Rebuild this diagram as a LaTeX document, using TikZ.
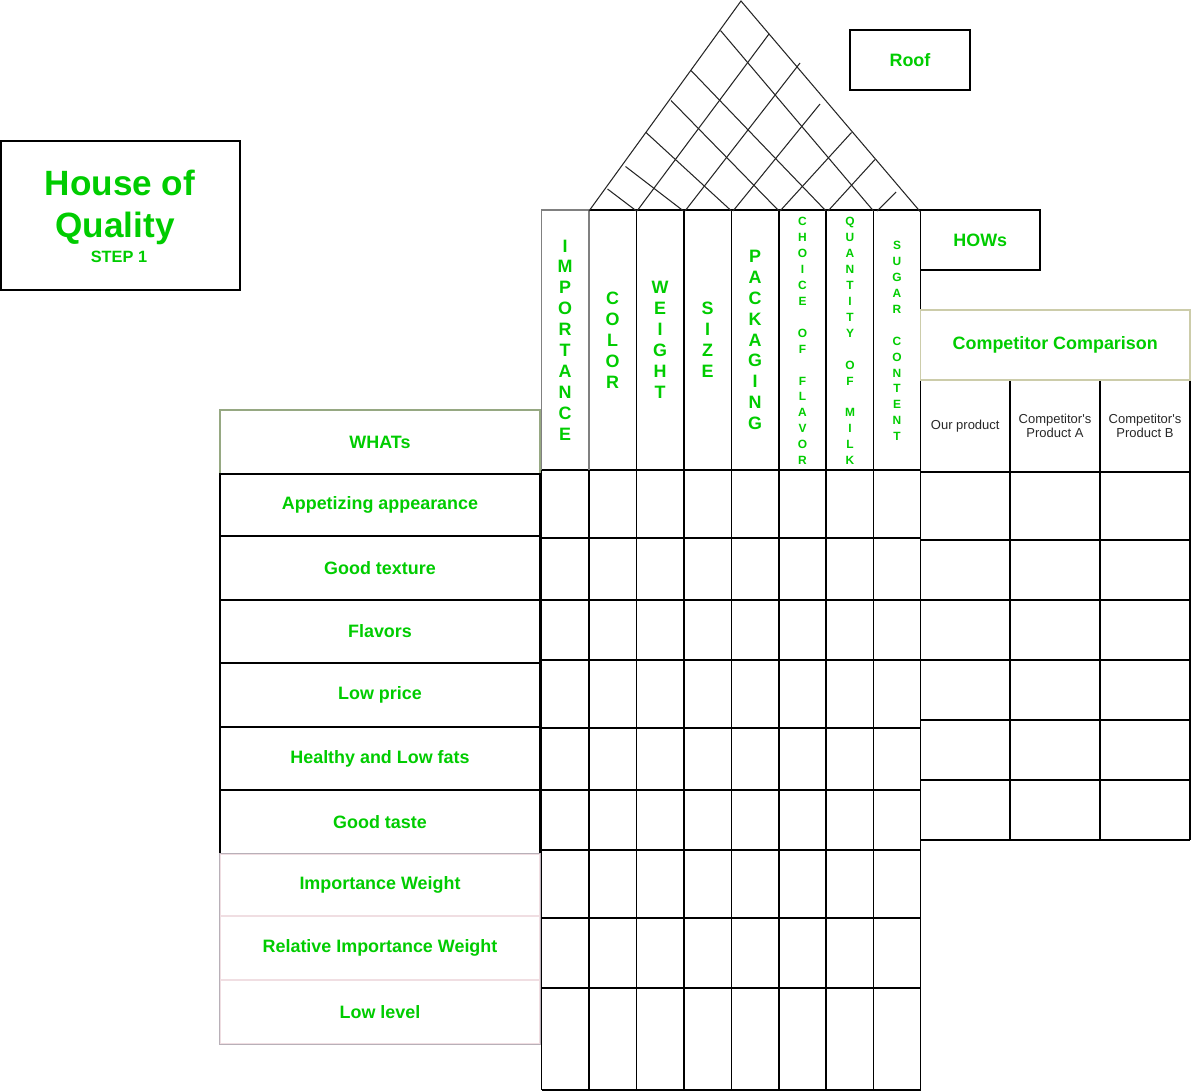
\documentclass[tikz,border=0pt]{standalone}
\usepackage{fontspec}
\setmainfont{Liberation Sans}
\usetikzlibrary{fit}

\definecolor{qgreen}{RGB}{0,204,0}
\definecolor{olivegray}{RGB}{150,168,130}
\definecolor{paleolive}{RGB}{204,204,170}
\definecolor{pinkgray}{RGB}{184,176,184}
\definecolor{palepink}{RGB}{240,222,226}
\definecolor{txtgray}{RGB}{40,40,40}

\newcommand{\gapline}{\mbox{}}

\begin{document}
\begin{tikzpicture}[
        x=0.02cm, y=-0.02cm,
        line width=0.7pt,
        box/.style={draw, inner sep=0pt},
        boxtext/.style={font=\fontsize{10.2}{12}\selectfont\bfseries, text=qgreen, align=center, inner sep=0pt},
        letters/.style={font=\fontsize{10.2}{11.9}\selectfont\bfseries, text=qgreen, align=center, inner sep=0pt},
        smallletters/.style={font=\fontsize{6.8}{9.07}\selectfont\bfseries, text=qgreen, align=center, inner sep=0pt},
        comptext/.style={inner sep=0pt, font=\fontsize{7.4}{7.9}\selectfont, text=txtgray, align=center},
        title/.style={anchor=base, inner sep=0pt, text=qgreen, font=\bfseries},
        roofline/.style={line width=0.6pt, draw=black!85}
    ]
    \useasboundingbox (0,0) rectangle (1191,1091);

    % title and side boxes
    \node[box, fit={(1,141) (240,290)}] (titlebox) {};
    \node[title, font=\fontsize{20}{24}\selectfont\bfseries] (house) at (120,196) {House of};
    \node[title, font=\fontsize{20}{24}\selectfont\bfseries] (quality) at (115,238) {Quality};
    \node[title, font=\fontsize{9.3}{11}\selectfont\bfseries] (step) at (119,263) {STEP 1};
    \node[box, fit={(850,30) (970,90)}, label={[boxtext]center:Roof}] (roof) {};
    \node[box, fit={(920.5,210) (1040,270)}, label={[boxtext]center:HOWs}] (hows) {};

    % WHATs list
    \node[box, draw=olivegray, fit={(220,410) (540,474)}, label={[boxtext]center:WHATs}] (whats) {};
    \node[box, fit={(220,474) (540,536)}, label={[boxtext]center:Appetizing appearance}] (w1) {};
    \node[box, fit={(220,536) (540,600)}, label={[boxtext]center:Good texture}] (w2) {};
    \node[box, fit={(220,600) (540,663)}, label={[boxtext]center:Flavors}] (w3) {};
    \node[box, fit={(220,663) (540,727)}, label={[boxtext]center:Low price}] (w4) {};
    \node[box, fit={(220,727) (540,790)}, label={[boxtext]center:Healthy and Low fats}] (w5) {};
    \node[box, fit={(220,790) (540,854)}, label={[boxtext]center:Good taste}] (w6) {};
    \node[box, draw=palepink, fit={(220,854) (540,916)}, label={[boxtext]center:Importance Weight}] (imp) {};
    \node[box, draw=palepink, fit={(220,916) (540,980)}, label={[boxtext]center:Relative Importance Weight}] (relimp) {};
    \node[box, draw=palepink, fit={(220,980) (540,1044)}, label={[boxtext]center:Low level}] (lowlvl) {};
    \draw[pinkgray] (imp.north west) rectangle (lowlvl.south east);

    % main grid
    \foreach \x in {636.5,684,731.5,779,826,873.5,920.5}
        \draw (\x,210) -- (\x,1090);
    \foreach \x in {541.5,589}
        \draw (\x,470) -- (\x,1090);
    \foreach \y in {470,538,600,660,728,790,850,918,988,1090}
        \draw (541.5,\y) -- (920.5,\y);
    \draw (589,210) -- (920.5,210);
    \draw[gray] (541.5,470) -- (541.5,210) -- (589,210) -- (589,470);

    % HOWs headers
    \node[letters] (h1) at (565,340) {I\\M\\P\\O\\R\\T\\A\\N\\C\\E};
    \node[letters] (h2) at (612.5,340) {C\\O\\L\\O\\R};
    \node[letters] (h3) at (660,340) {W\\E\\I\\G\\H\\T};
    \node[letters] (h4) at (707.5,340) {S\\I\\Z\\E};
    \node[letters] (h5) at (755,340) {P\\A\\C\\K\\A\\G\\I\\N\\G};
    \node[smallletters] (h6) at (802.5,341) {C\\H\\O\\I\\C\\E\\\gapline\\O\\F\\\gapline\\F\\L\\A\\V\\O\\R};
    \node[smallletters] (h7) at (850,341) {Q\\U\\A\\N\\T\\I\\T\\Y\\\gapline\\O\\F\\\gapline\\M\\I\\L\\K};
    \node[smallletters] (h8) at (897,341) {S\\U\\G\\A\\R\\\gapline\\C\\O\\N\\T\\E\\N\\T};

    % roof
    \draw[roofline] (589,211) -- (741,1) -- (920.5,212);
    \foreach \bx/\ex/\ey in {637/769/34, 685/800/63, 733/820/104, 780/851.5/132.5, 828/875/159.5, 877/896/192}
        \draw[roofline] (\bx,211) -- (\ex,\ey);
    \foreach \bx/\ex/\ey in {636.5/607.5/189, 683.5/625.5/166.5, 731.5/646/132.5, 779/671/100.5, 826/691/70.5, 873.5/720.5/30.5}
        \draw[roofline] (\bx,211) -- (\ex,\ey);

    % competitor comparison
    \foreach \y in {472,540,600,660,720,780,840}
        \draw (920.5,\y) -- (1190,\y);
    \foreach \x in {1010,1100,1190}
        \draw (\x,380) -- (\x,840);
    \node[inner sep=0pt, fit={(920.5,380) (1010,472)}, label={[comptext]center:Our product}] (ours) {};
    \node[inner sep=0pt, fit={(1010,380) (1100,472)}, label={[comptext]center:Competitor\textquotesingle s\\Product A}] (compa) {};
    \node[inner sep=0pt, fit={(1100,380) (1190,472)}, label={[comptext]center:Competitor\textquotesingle s\\Product B}] (compb) {};
    \node[box, draw=paleolive, fit={(920.5,310) (1190,380)}, label={[boxtext]center:Competitor Comparison}] (comparison) {};
\end{tikzpicture}
\end{document}
